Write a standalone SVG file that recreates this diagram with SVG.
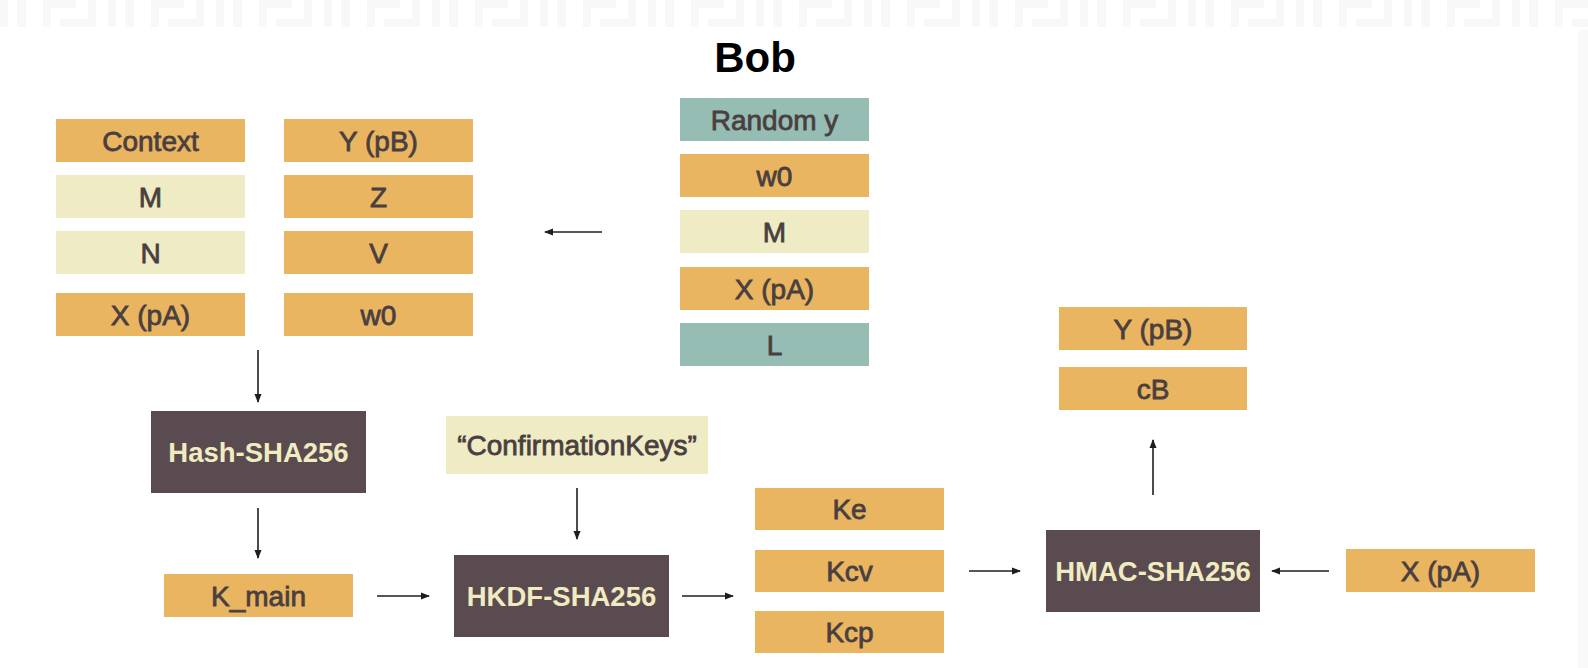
<svg xmlns="http://www.w3.org/2000/svg" width="1588" height="668" viewBox="0 0 1588 668">
<style>
.o{fill:#E9B560}
.y{fill:#EFEBC4}
.g{fill:#96BDB3}
.d{fill:#594B4F}
.t{font-family:"Liberation Sans",Arial,sans-serif;font-size:28px;fill:#4A3F40;stroke:#4A3F40;stroke-width:0.8;text-anchor:middle}
.td{font-family:"Liberation Sans",Arial,sans-serif;font-size:27.5px;font-weight:bold;fill:#F1EBC2;text-anchor:middle}
.c{stroke:#1E1E1E;stroke-width:1.6;fill:none;marker-end:url(#ah)}
</style>
<defs>
<marker id="ah" markerWidth="9" markerHeight="9" refX="8" refY="4.5" orient="auto" markerUnits="userSpaceOnUse">
<path d="M0,1 L9,4.5 L0,8 Z" fill="#1E1E1E"/>
</marker>
<pattern id="bg" x="0" y="0" width="108" height="27" patternUnits="userSpaceOnUse">
<rect x="0" y="0" width="8" height="27" fill="#F8F8F8"/>
<rect x="17" y="0" width="9" height="27" fill="#F8F8F8"/>
<path d="M47 27 V4 H76 M60 23 H92 V0" stroke="#F8F8F8" stroke-width="8" fill="none"/>
</pattern>
</defs>
<rect width="1588" height="668" fill="#FFFFFF"/>
<rect x="0" y="0" width="1588" height="27" fill="url(#bg)"/>
<rect x="1578" y="30" width="10" height="638" fill="#F9F9F9"/>

<text id="title" x="755" y="72" font-family="Liberation Sans,Arial,sans-serif" font-size="42" font-weight="bold" fill="#000" text-anchor="middle">Bob</text>

<g id="context"><rect class="o" x="56" y="119" width="189" height="43"/><text class="t" x="150.5" y="150.5">Context</text></g>
<g id="m-left"><rect class="y" x="56" y="175" width="189" height="43"/><text class="t" x="150.5" y="206.5">M</text></g>
<g id="n-left"><rect class="y" x="56" y="231" width="189" height="43"/><text class="t" x="150.5" y="262.5">N</text></g>
<g id="xpa-left"><rect class="o" x="56" y="293" width="189" height="43"/><text class="t" x="150.5" y="324.5">X (pA)</text></g>

<g id="ypb-left"><rect class="o" x="284" y="119" width="189" height="43"/><text class="t" x="378.5" y="150.5">Y (pB)</text></g>
<g id="z"><rect class="o" x="284" y="175" width="189" height="43"/><text class="t" x="378.5" y="206.5">Z</text></g>
<g id="v"><rect class="o" x="284" y="231" width="189" height="43"/><text class="t" x="378.5" y="262.5">V</text></g>
<g id="w0-left"><rect class="o" x="284" y="293" width="189" height="43"/><text class="t" x="378.5" y="324.5">w0</text></g>

<g id="random-y"><rect class="g" x="680" y="98" width="189" height="43"/><text class="t" x="774.5" y="129.5">Random y</text></g>
<g id="w0-bob"><rect class="o" x="680" y="154" width="189" height="43"/><text class="t" x="774.5" y="185.5">w0</text></g>
<g id="m-bob"><rect class="y" x="680" y="210" width="189" height="43"/><text class="t" x="774.5" y="241.5">M</text></g>
<g id="xpa-bob"><rect class="o" x="680" y="267" width="189" height="43"/><text class="t" x="774.5" y="298.5">X (pA)</text></g>
<g id="l"><rect class="g" x="680" y="323" width="189" height="43"/><text class="t" x="774.5" y="354.5">L</text></g>

<g id="hash"><rect class="d" x="151" y="411" width="215" height="82"/><text class="td" x="258.5" y="461.5">Hash-SHA256</text></g>
<g id="kmain"><rect class="o" x="164" y="574" width="189" height="43"/><text class="t" x="258.5" y="605.5">K_main</text></g>
<g id="confkeys"><rect class="y" x="446" y="416" width="262" height="58"/><text class="t" x="577" y="455">“ConfirmationKeys”</text></g>
<g id="hkdf"><rect class="d" x="454" y="555" width="215" height="82"/><text class="td" x="561.5" y="605.5">HKDF-SHA256</text></g>

<g id="ke"><rect class="o" x="755" y="488" width="189" height="42"/><text class="t" x="849.5" y="519">Ke</text></g>
<g id="kcv"><rect class="o" x="755" y="550" width="189" height="42"/><text class="t" x="849.5" y="581">Kcv</text></g>
<g id="kcp"><rect class="o" x="755" y="611" width="189" height="42"/><text class="t" x="849.5" y="642">Kcp</text></g>

<g id="hmac"><rect class="d" x="1046" y="530" width="214" height="82"/><text class="td" x="1153" y="580.5">HMAC-SHA256</text></g>
<g id="ypb-out"><rect class="o" x="1059" y="307" width="188" height="43"/><text class="t" x="1153" y="338.5">Y (pB)</text></g>
<g id="cb"><rect class="o" x="1059" y="367" width="188" height="43"/><text class="t" x="1153" y="398.5">cB</text></g>
<g id="xpa-right"><rect class="o" x="1346" y="549" width="189" height="43"/><text class="t" x="1440.5" y="580.5">X (pA)</text></g>

<g id="connectors">
<line class="c" x1="602" y1="232" x2="545" y2="232"/>
<line class="c" x1="258" y1="350" x2="258" y2="402"/>
<line class="c" x1="258" y1="508" x2="258" y2="558"/>
<line class="c" x1="377" y1="596" x2="429" y2="596"/>
<line class="c" x1="577" y1="488" x2="577" y2="539"/>
<line class="c" x1="682" y1="596" x2="733" y2="596"/>
<line class="c" x1="969" y1="571" x2="1020" y2="571"/>
<line class="c" x1="1153" y1="495" x2="1153" y2="440"/>
<line class="c" x1="1329" y1="571" x2="1272" y2="571"/>
</g>
</svg>
